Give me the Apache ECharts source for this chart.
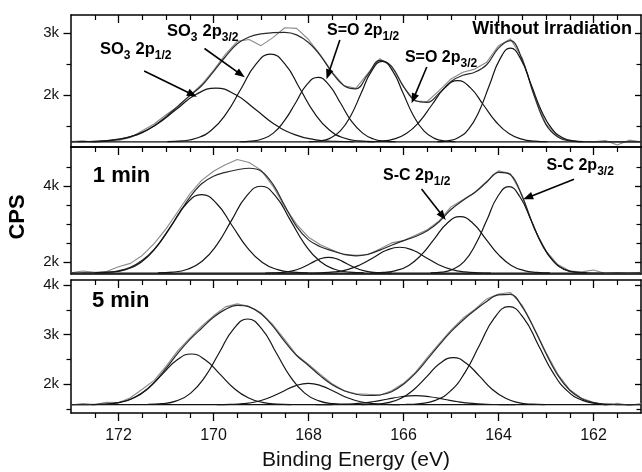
<!DOCTYPE html>
<html>
<head>
<meta charset="utf-8">
<script src="https://cdn.jsdelivr.net/npm/echarts@6/dist/echarts.min.js"></script>
<style>html,body{margin:0;padding:0;background:#fff}#c{width:642px;height:472px}</style>
</head>
<body>
<div id="c"></div>
<script>
// ---------------- DATA ----------------
const energyGrid = [173,172.75,172.5,172.25,172,171.75,171.5,171.25,171,170.75,170.5,170.25,170,169.75,169.5,169.25,169,168.75,168.5,168.25,168,167.75,167.5,167.25,167,166.75,166.5,166.25,166,165.75,165.5,165.25,165,164.75,164.5,164.25,164,163.75,163.5,163.25,163,162.75,162.5,162.25,162,161.75,161.5,161.25,161];
const xMajorTicks = [162,164,166,168,170,172];
const xMinorTicks = [161.5,162.5,163,163.5,164.5,165,165.5,166.5,167,167.5,168.5,169,169.5,170.5,171,171.5,172.5];
const baselines = [1240, 1705, 1590];

// Without irradiation
const topRaw = [1245,1258,1232,1250,1262,1310,1420,1530,1680,1810,1990,2170,2400,2660,2870,2900,2800,2930,3090,3080,2900,2650,2370,2150,2110,2350,2590,2470,2130,1900,1895,2070,2260,2370,2420,2530,2800,2910,2600,2000,1530,1330,1262,1250,1243,1262,1190,1268,1243];
const topEnvelope = [1240,1243,1248,1260,1285,1325,1390,1500,1650,1820,1990,2150,2380,2620,2830,2940,2990,3010,3015,2975,2850,2640,2360,2150,2100,2330,2560,2460,2140,1910,1880,2030,2220,2320,2370,2490,2760,2880,2570,1990,1520,1320,1255,1243,1240,1240,1240,1240,1240];
const topPeakA = [[172.86,1242],[172.44,1250],[172.03,1278],[171.61,1358],[171.2,1522],[170.78,1768],[170.37,2008],[169.95,2110],[169.54,2008],[169.12,1768],[168.71,1522],[168.29,1358],[167.88,1278],[167.46,1250],[167.05,1242]];
const topPeakB = [[170.97,1243],[170.66,1256],[170.35,1302],[170.04,1432],[169.73,1702],[169.42,2102],[169.11,2495],[168.8,2662],[168.49,2495],[168.18,2102],[167.87,1702],[167.56,1432],[167.25,1302],[166.94,1256],[166.63,1243]];
const topPeakC = [[169.45,1242],[169.21,1252],[168.98,1286],[168.74,1382],[168.51,1580],[168.27,1875],[168.04,2164],[167.8,2287],[167.57,2164],[167.33,1875],[167.1,1580],[166.86,1382],[166.63,1286],[166.39,1252],[166.16,1242]];
const topPeakD = [[167.99,1243],[167.77,1254],[167.55,1297],[167.33,1417],[167.11,1664],[166.89,2031],[166.67,2392],[166.45,2545],[166.23,2392],[166.01,2031],[165.79,1664],[165.57,1417],[165.35,1297],[165.13,1254],[164.91,1243]];
const topPeakE = [[166.75,1242],[166.48,1251],[166.21,1284],[165.94,1374],[165.67,1562],[165.4,1842],[165.13,2115],[164.86,2232],[164.59,2115],[164.32,1842],[164.05,1562],[163.78,1374],[163.51,1284],[163.24,1251],[162.97,1242]];
const topPeakF = [[165.29,1243],[165.07,1257],[164.85,1307],[164.63,1446],[164.41,1734],[164.19,2162],[163.97,2581],[163.75,2760],[163.53,2581],[163.31,2162],[163.09,1734],[162.87,1446],[162.65,1307],[162.43,1257],[162.21,1243]];

// 1 min
const midRaw = [1712,1760,1722,1745,1870,1960,2170,2480,2870,3330,3790,4150,4390,4560,4700,4620,4420,4000,3450,2990,2650,2450,2310,2190,2170,2190,2340,2500,2560,2700,2850,3080,3450,3640,3830,4120,4400,4330,3760,2880,2290,1930,1760,1735,1785,1695,1718,1700,1722];
const midEnvelope = [1705,1708,1712,1728,1765,1855,2040,2330,2740,3220,3700,4060,4260,4360,4430,4470,4400,4050,3480,2930,2580,2400,2290,2200,2160,2200,2310,2440,2560,2670,2820,3060,3380,3620,3830,4100,4360,4300,3720,2900,2280,1900,1745,1715,1706,1705,1705,1705,1705];
const midPeakA = [[172.49,1710],[172.17,1728],[171.85,1796],[171.53,1985],[171.21,2377],[170.89,2960],[170.57,3532],[170.25,3775],[169.93,3532],[169.61,2960],[169.29,2377],[168.97,1985],[168.65,1796],[168.33,1728],[168.01,1710]];
const midPeakB = [[171.17,1710],[170.86,1730],[170.55,1806],[170.24,2015],[169.93,2449],[169.62,3094],[169.31,3726],[169.0,3995],[168.69,3726],[168.38,3094],[168.07,2449],[167.76,2015],[167.45,1806],[167.14,1730],[166.83,1710]];
const midPeakC = [[168.91,1706],[168.72,1710],[168.53,1723],[168.34,1761],[168.15,1840],[167.96,1957],[167.77,2071],[167.58,2120],[167.39,2071],[167.2,1957],[167.01,1840],[166.82,1761],[166.63,1723],[166.44,1710],[166.25,1706]];
const midPeakD = [[168.01,1707],[167.74,1712],[167.46,1735],[167.18,1797],[166.91,1926],[166.63,2117],[166.36,2305],[166.08,2385],[165.8,2305],[165.53,2117],[165.26,1926],[164.98,1797],[164.71,1735],[164.43,1712],[164.16,1707]];
const midPeakE = [[166.7,1708],[166.43,1722],[166.16,1770],[165.89,1907],[165.62,2189],[165.35,2609],[165.08,3020],[164.81,3195],[164.54,3020],[164.27,2609],[164.0,2189],[163.73,1907],[163.46,1770],[163.19,1722],[162.92,1708]];
const midPeakF = [[165.43,1710],[165.19,1730],[164.96,1805],[164.72,2013],[164.49,2445],[164.25,3088],[164.02,3717],[163.78,3985],[163.55,3717],[163.31,3088],[163.08,2445],[162.84,2013],[162.61,1805],[162.37,1730],[162.14,1710]];

// 5 min
const botRaw = [1583,1612,1590,1640,1630,1730,1900,2080,2360,2680,2930,3170,3380,3560,3620,3570,3440,3200,2900,2590,2400,2200,2010,1870,1810,1800,1780,1870,2020,2240,2540,2820,3090,3330,3510,3720,3820,3850,3590,3130,2640,2200,1890,1720,1640,1580,1620,1575,1610];
const botEnvelope = [1590,1591,1593,1603,1632,1700,1830,2040,2320,2630,2900,3130,3350,3510,3590,3560,3420,3170,2860,2580,2380,2170,1990,1870,1800,1775,1785,1850,2000,2220,2500,2790,3060,3290,3490,3670,3800,3810,3560,3120,2620,2180,1880,1710,1630,1600,1592,1590,1590];
const botPeakA = [[172.57,1592],[172.27,1601],[171.97,1635],[171.67,1728],[171.37,1921],[171.07,2209],[170.77,2490],[170.47,2610],[170.17,2490],[169.87,2209],[169.57,1921],[169.27,1728],[168.97,1635],[168.67,1601],[168.37,1592]];
const botPeakB = [[171.38,1594],[171.08,1609],[170.78,1666],[170.48,1823],[170.18,2150],[169.88,2636],[169.58,3112],[169.28,3315],[168.98,3112],[168.68,2636],[168.38,2150],[168.08,1823],[167.78,1666],[167.48,1609],[167.18,1594]];
const botPeakC = [[169.93,1591],[169.65,1595],[169.38,1609],[169.1,1648],[168.83,1730],[168.55,1851],[168.28,1969],[168.0,2020],[167.73,1969],[167.45,1851],[167.18,1730],[166.9,1648],[166.63,1609],[166.35,1595],[166.08,1591]];
const botPeakD = [[167.85,1590],[167.55,1592],[167.25,1598],[166.95,1614],[166.65,1648],[166.35,1699],[166.05,1749],[165.75,1770],[165.45,1749],[165.15,1699],[164.85,1648],[164.55,1614],[164.25,1598],[163.95,1592],[163.65,1590]];
const botPeakE = [[166.88,1592],[166.6,1600],[166.33,1632],[166.05,1718],[165.78,1897],[165.5,2164],[165.23,2425],[164.95,2536],[164.68,2425],[164.4,2164],[164.13,1897],[163.85,1718],[163.58,1632],[163.3,1600],[163.03,1592]];
const botPeakF = [[165.95,1594],[165.64,1612],[165.33,1677],[165.02,1857],[164.71,2231],[164.4,2787],[164.09,3332],[163.78,3564],[163.47,3332],[163.16,2787],[162.85,2231],[162.54,1857],[162.23,1677],[161.92,1612],[161.61,1594]];

const yMajorTicks = [[2000,3000],[2000,4000],[2000,3000,4000]];
const yMinorTicks = [[1500,2500],[2500,3000,3500,4500],[1500,2500,3500]];

// Annotation texts: [text, isSubscript]
const labelTexts = [
  [['SO',0],['3',1],[' 2p',0],['1/2',1]],
  [['SO',0],['3',1],[' 2p',0],['3/2',1]],
  [['S=O 2p',0],['1/2',1]],
  [['S=O 2p',0],['3/2',1]],
  [['Without Irradiation',0]],
  [['1 min',0]],
  [['S-C 2p',0],['1/2',1]],
  [['S-C 2p',0],['3/2',1]],
  [['5 min',0]]
];

// ---------------- LAYOUT / STYLE ----------------
const FONT = '"Liberation Sans", Arial, Helvetica, sans-serif';
const panels = [
  {top: 15, height: 132, min: 1157, max: 3297, raw: topRaw, env: topEnvelope, peaks: [topPeakA, topPeakB, topPeakC, topPeakD, topPeakE, topPeakF]},
  {top: 147, height: 127, min: 1680, max: 5030, raw: midRaw, env: midEnvelope, peaks: [midPeakA, midPeakB, midPeakC, midPeakD, midPeakE, midPeakF]},
  {top: 280, height: 133, min: 1422, max: 4101, raw: botRaw, env: botEnvelope, peaks: [botPeakA, botPeakB, botPeakC, botPeakD, botPeakE, botPeakF]}
];

const grids = [], xAxes = [], yAxes = [], series = [];
const lineCol = '#000';
panels.forEach((p, i) => {
  grids.push({left: 71, width: 570, top: p.top, height: p.height, containLabel: false});
  const last = i === 2;
  const xBase = {gridIndex: i, type: 'value', min: 161, max: 173, inverse: true, splitLine: {show: false}};
  xAxes.push(Object.assign({}, xBase, {
    position: 'bottom',
    axisLine: {show: true, onZero: false, lineStyle: {color: lineCol, width: 1.5}},
    axisTick: last ? {show: true, inside: false, length: 8, customValues: xMajorTicks, lineStyle: {color: lineCol, width: 1.3}} : {show: false},
    axisLabel: last ? {show: true, customValues: xMajorTicks, margin: 15, fontSize: 16, color: '#111', fontFamily: FONT} : {show: false},
    name: last ? 'Binding Energy (eV)' : '',
    nameLocation: 'middle', nameGap: 37,
    nameTextStyle: {fontSize: 21, color: '#111', fontFamily: FONT}
  }));
  xAxes.push(Object.assign({}, xBase, {
    position: 'bottom', axisLine: {show: false, onZero: false},
    axisTick: last ? {show: true, inside: false, length: 5, customValues: xMinorTicks, lineStyle: {color: lineCol, width: 1.2}} : {show: false},
    axisLabel: {show: false}
  }));
  xAxes.push(Object.assign({}, xBase, {
    position: 'top',
    axisLine: {show: true, onZero: false, lineStyle: {color: lineCol, width: 1.5}},
    axisTick: {show: true, inside: true, length: 8, customValues: xMajorTicks, lineStyle: {color: lineCol, width: 1.3}},
    axisLabel: {show: false}
  }));
  xAxes.push(Object.assign({}, xBase, {
    position: 'top', axisLine: {show: false, onZero: false},
    axisTick: {show: true, inside: true, length: 5, customValues: xMinorTicks, lineStyle: {color: lineCol, width: 1.2}},
    axisLabel: {show: false}
  }));
  const yBase = {gridIndex: i, type: 'value', min: p.min, max: p.max, splitLine: {show: false}};
  yAxes.push(Object.assign({}, yBase, {
    position: 'left',
    axisLine: {show: true, onZero: false, lineStyle: {color: lineCol, width: 1.5}},
    axisTick: {show: true, inside: false, length: 7.5, customValues: yMajorTicks[i], lineStyle: {color: lineCol, width: 1.3}},
    axisLabel: {show: true, customValues: yMajorTicks[i], margin: 12, fontSize: 15, color: '#111', fontFamily: FONT,
      formatter: v => (v / 1000) + 'k'}
  }));
  yAxes.push(Object.assign({}, yBase, {
    position: 'left', axisLine: {show: false, onZero: false},
    axisTick: {show: true, inside: false, length: 4.5, customValues: yMinorTicks[i], lineStyle: {color: lineCol, width: 1.2}},
    axisLabel: {show: false}
  }));
  yAxes.push(Object.assign({}, yBase, {
    position: 'right',
    axisLine: {show: true, onZero: false, lineStyle: {color: lineCol, width: 1.5}},
    axisTick: {show: true, inside: true, length: 6, customValues: yMajorTicks[i], lineStyle: {color: lineCol, width: 1.3}},
    axisLabel: {show: false}
  }));
  yAxes.push(Object.assign({}, yBase, {
    position: 'right', axisLine: {show: false, onZero: false},
    axisTick: {show: true, inside: true, length: 4.5, customValues: yMinorTicks[i], lineStyle: {color: lineCol, width: 1.2}},
    axisLabel: {show: false}
  }));

  const common = {type: 'line', xAxisIndex: 4 * i, yAxisIndex: 4 * i, showSymbol: false, symbol: 'none', silent: true, animation: false};
  series.push(Object.assign({}, common, {data: [[161, baselines[i]], [173, baselines[i]]], lineStyle: {color: '#111', width: 1.1}, z: 3}));
  series.push(Object.assign({}, common, {data: energyGrid.map((e, k) => [e, p.raw[k]]), lineStyle: {color: '#8a8a8a', width: 1.1}, z: 2}));
  series.push(Object.assign({}, common, {data: energyGrid.map((e, k) => [e, p.env[k]]), smooth: 0.4, lineStyle: {color: '#2a2a2a', width: 1.2}, z: 4}));
  p.peaks.forEach(pk => {
    series.push(Object.assign({}, common, {data: pk, smooth: 0.5, lineStyle: {color: '#151515', width: 1.2}, z: 5}));
  });
});

const chart = echarts.init(document.getElementById('c'), null, {renderer: 'canvas'});
chart.setOption({
  animation: false,
  backgroundColor: '#fff',
  grid: grids, xAxis: xAxes, yAxis: yAxes, series: series
});

// ---------------- ANNOTATIONS (anchored in data coordinates) ----------------
const labelAnchors = [
  {panel: 0, e: 172.39, c: 2649, fs: 16.5, align: 'left'},
  {panel: 0, e: 170.98, c: 2940, fs: 16.5, align: 'left'},
  {panel: 0, e: 167.61, c: 2957, fs: 16, align: 'left'},
  {panel: 0, e: 165.97, c: 2519, fs: 16, align: 'left'},
  {panel: 0, e: 161.19, c: 2973, fs: 18, align: 'right'},
  {panel: 1, e: 172.54, c: 4072, fs: 22, align: 'left'},
  {panel: 1, e: 166.43, c: 4120, fs: 16, align: 'left'},
  {panel: 1, e: 162.99, c: 4397, fs: 16, align: 'left'},
  {panel: 2, e: 172.56, c: 3517, fs: 22, align: 'left'}
];
const arrows = [
  {panel: 0, from: [171.46, 2389], to: [170.35, 1973]},
  {panel: 0, from: [170.19, 2754], to: [169.34, 2287]},
  {panel: 0, from: [167.34, 2892], to: [167.62, 2255]},
  {panel: 0, from: [165.51, 2454], to: [165.83, 1866]},
  {panel: 1, from: [165.62, 3922], to: [165.11, 3104]},
  {panel: 1, from: [162.41, 4178], to: [163.48, 3650]}
];
function toPx(panel, pt) {
  return chart.convertToPixel({xAxisIndex: 4 * panel, yAxisIndex: 4 * panel}, pt);
}
const mctx = document.createElement('canvas').getContext('2d');
function fontOf(size) { return 'bold ' + size + 'px ' + FONT; }
function widthOf(str, size) { mctx.font = fontOf(size); return mctx.measureText(str).width; }

const graphics = [];
labelAnchors.forEach((l, idx) => {
  const parts = labelTexts[idx];
  const subSize = Math.round(l.fs * 0.72);
  const p = toPx(l.panel, [l.e, l.c]);
  const sizes = parts.map(pt => pt[1] ? subSize : l.fs);
  const total = parts.reduce((acc, pt, k) => acc + widthOf(pt[0], sizes[k]) + (pt[1] ? 0.5 : 0), 0);
  let x = l.align === 'right' ? p[0] - total : p[0];
  parts.forEach((pt, k) => {
    const sz = sizes[k];
    const base = pt[1] ? p[1] + 0.3 * l.fs : p[1];
    graphics.push({type: 'text', x: x, y: base - 0.35 * sz, z: 20,
      style: {text: pt[0], font: fontOf(sz), fill: '#000', align: 'left', verticalAlign: 'middle'}});
    x += widthOf(pt[0], sz) + (pt[1] ? 0.5 : 0);
  });
});
arrows.forEach(a => {
  const s = toPx(a.panel, a.from), t = toPx(a.panel, a.to);
  const dx = t[0] - s[0], dy = t[1] - s[1], len = Math.sqrt(dx * dx + dy * dy);
  const ux = dx / len, uy = dy / len, L = 10, W = 3.8;
  const bx = t[0] - ux * L, by = t[1] - uy * L;
  graphics.push({type: 'line', z: 20, shape: {x1: s[0], y1: s[1], x2: bx + ux * 1.5, y2: by + uy * 1.5},
    style: {stroke: '#000', lineWidth: 1.6}});
  graphics.push({type: 'polygon', z: 20, shape: {points: [[t[0], t[1]], [bx - uy * W, by + ux * W], [bx + uy * W, by - ux * W]]},
    style: {fill: '#000'}});
});
graphics.push({type: 'text', x: 18, y: 217, rotation: Math.PI / 2, z: 20,
  style: {text: 'CPS', font: 'bold 22px ' + FONT, fill: '#000', align: 'center', verticalAlign: 'middle'}});
chart.setOption({graphic: graphics});
</script>
</body>
</html>
